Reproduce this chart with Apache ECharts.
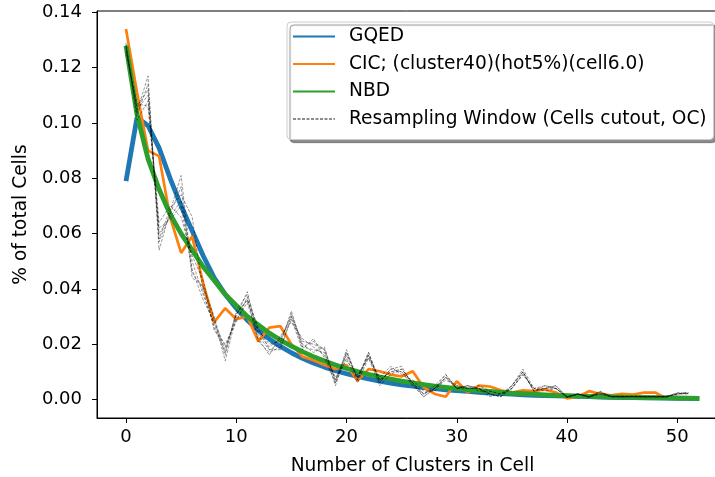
<!DOCTYPE html>
<html>
<head>
<meta charset="utf-8">
<script src="https://cdn.jsdelivr.net/npm/echarts@6/dist/echarts.min.js"></script>
<style>html,body{margin:0;padding:0;background:#fff}#c{width:715px;height:477px}</style>
</head>
<body>
<div id="c"></div>
<script>
// Tick labels
const xTicks = [0, 10, 20, 30, 40, 50];
const yTicks = [0, 0.02, 0.04, 0.06, 0.08, 0.10, 0.12, 0.14];

// Series names
const names = ['GQED', 'CIC; (cluster40)(hot5%)(cell6.0)', 'NBD', 'Resampling Window (Cells cutout, OC)'];

// Values indexed by number of clusters in cell (0,1,2,...)
const gqed = [0.079,0.102,0.099,0.091,0.080,0.070,0.061,0.052,0.044,0.038,0.033,0.0287,0.0250,0.0219,0.0192,0.0169,0.0149,0.0132,0.0117,0.0104,0.0093,0.0083,0.0074,0.0066,0.0059,0.0053,0.0048,0.0043,0.0039,0.0035,0.0032,0.0029,0.0026,0.0023,0.0021,0.0019,0.0017,0.0015,0.0014,0.0013,0.0012,0.0011,0.0010,0.0009,0.0008,0.0007,0.00065,0.0006,0.00055,0.0005,0.00045,0.0004,0.00036];
const cic = [0.134,0.111,0.090,0.088,0.066,0.053,0.059,0.042,0.028,0.033,0.029,0.030,0.021,0.026,0.0265,0.020,0.0155,0.0142,0.0125,0.011,0.0125,0.0068,0.011,0.0102,0.009,0.0083,0.0102,0.0044,0.002,0.001,0.0066,0.0025,0.005,0.0047,0.0033,0.0025,0.0033,0.003,0.0036,0.0025,0.0004,0.001,0.003,0.002,0.0015,0.002,0.0018,0.0025,0.0025,0.0004,0.001];
const nbd = [0.128,0.103,0.087,0.076,0.067,0.060,0.054,0.048,0.043,0.038,0.034,0.030,0.027,0.024,0.0215,0.0193,0.0173,0.0155,0.0139,0.0125,0.0112,0.0101,0.0091,0.0082,0.0074,0.0066,0.0060,0.0054,0.0048,0.0044,0.0039,0.0035,0.0032,0.0029,0.0026,0.0023,0.0021,0.0019,0.0017,0.0015,0.0014,0.0012,0.0011,0.0010,0.0009,0.0008,0.00075,0.00068,0.0006,0.00055,0.0005,0.00045,0.0004];

const resample1 = [0.128,0.104,0.117,0.054,0.068,0.081,0.046,0.040,0.029,0.014,0.030,0.039,0.023,0.018,0.020,0.032,0.019,0.018,0.017,0.005,0.017,0.007,0.017,0.006,0.011,0.010,0.005,0.001,0.004,0.009,0.004,0.005,0.004,0.001,0.002,0.005,0.011,0.004,0.005,0.004,0.001,0.002,0.001,0.003,0.001,0.001,0.001,0.001,0.001,0.001,0.002,0.0025];
const resample2 = [0.126,0.106,0.112,0.060,0.066,0.072,0.050,0.038,0.027,0.018,0.031,0.036,0.024,0.019,0.022,0.030,0.021,0.020,0.018,0.007,0.016,0.008,0.016,0.007,0.010,0.011,0.006,0.002,0.004,0.008,0.005,0.004,0.004,0.002,0.001,0.004,0.010,0.003,0.004,0.005,0.0007,0.002,0.0007,0.0025,0.001,0.001,0.0012,0.001,0.001,0.0012,0.0022,0.0022];
const resample3 = [0.129,0.101,0.108,0.064,0.070,0.066,0.052,0.043,0.025,0.020,0.028,0.037,0.021,0.017,0.019,0.029,0.018,0.022,0.015,0.006,0.015,0.006,0.015,0.008,0.012,0.009,0.007,0.003,0.003,0.008,0.004,0.005,0.003,0.003,0.002,0.004,0.009,0.004,0.003,0.004,0.001,0.002,0.001,0.002,0.001,0.0008,0.001,0.0008,0.001,0.001,0.002,0.002];
const resample4 = [0.127,0.103,0.114,0.057,0.067,0.077,0.044,0.041,0.030,0.016,0.032,0.038,0.025,0.020,0.021,0.031,0.020,0.017,0.019,0.006,0.018,0.007,0.016,0.006,0.011,0.012,0.005,0.002,0.005,0.009,0.004,0.004,0.004,0.002,0.001,0.005,0.010,0.003,0.005,0.004,0.0008,0.0022,0.001,0.0025,0.0012,0.001,0.001,0.001,0.0008,0.001,0.0025,0.0022];
const resample5 = [0.125,0.107,0.106,0.062,0.065,0.070,0.047,0.036,0.028,0.019,0.029,0.035,0.022,0.016,0.023,0.028,0.022,0.019,0.016,0.008,0.014,0.009,0.015,0.005,0.009,0.011,0.006,0.002,0.004,0.007,0.005,0.004,0.005,0.003,0.002,0.004,0.009,0.004,0.004,0.005,0.001,0.0018,0.0008,0.002,0.001,0.0012,0.001,0.0012,0.001,0.0008,0.002,0.0025];
const resample6 = [0.128,0.105,0.110,0.058,0.069,0.074,0.066,0.039,0.026,0.017,0.031,0.036,0.026,0.018,0.018,0.030,0.019,0.021,0.018,0.007,0.017,0.008,0.017,0.007,0.010,0.010,0.006,0.001,0.004,0.008,0.004,0.005,0.004,0.002,0.001,0.005,0.010,0.003,0.004,0.004,0.0006,0.002,0.001,0.0028,0.001,0.001,0.001,0.001,0.0012,0.001,0.002,0.0022];
const resamples = [resample1, resample2, resample3, resample4, resample5, resample6];

const pairs = arr => arr.map((v, i) => [i, v]);
const FONT = 'DejaVu Sans';
const NOSYM = { color: 'rgba(0,0,0,0)', borderWidth: 0 };

const series = [
  { name: names[0], type: 'line', data: pairs(gqed), symbol: 'none', lineStyle: { color: '#1f77b4', width: 4.8 }, itemStyle: NOSYM, z: 2 },
  { name: names[1], type: 'line', data: pairs(cic), symbol: 'none', lineStyle: { color: '#ff7f0e', width: 2.7 }, itemStyle: NOSYM, z: 3 },
  { name: names[2], type: 'line', data: pairs(nbd), symbol: 'none', lineStyle: { color: '#2ca02c', width: 4.8 }, itemStyle: NOSYM, z: 4 }
];
resamples.forEach(r => series.push({
  name: names[3], type: 'line', data: pairs(r), symbol: 'none',
  lineStyle: { color: 'rgba(0,0,0,0.45)', width: 0.9, type: [3, 1.5] },
  itemStyle: NOSYM, z: 5
}));

const chart = echarts.init(document.getElementById('c'), null, { renderer: 'canvas' });
chart.setOption({
  animation: false,
  backgroundColor: '#fff',
  textStyle: { fontFamily: FONT },
  grid: { left: 97, top: 11, width: 631, height: 407, outerBoundsMode: 'none', containLabel: false, show: true, borderColor: '#000', borderWidth: 1, backgroundColor: 'transparent' },
  xAxis: {
    type: 'value', min: -2.63, max: 54.6,
    splitLine: { show: false },
    axisLine: { onZero: false, lineStyle: { color: '#000', width: 1 } },
    axisTick: { customValues: xTicks, length: 5, lineStyle: { color: '#000' } },
    axisLabel: { customValues: xTicks, margin: 10, color: '#000', fontSize: 18, fontFamily: FONT },
    name: 'Number of Clusters in Cell', nameLocation: 'middle', nameGap: 39,
    nameTextStyle: { color: '#000', fontSize: 18.6, fontFamily: FONT }
  },
  yAxis: {
    type: 'value', min: -0.0067, max: 0.1405,
    splitLine: { show: false },
    axisLine: { onZero: false, lineStyle: { color: '#000', width: 1 } },
    axisTick: { customValues: yTicks, length: 5, lineStyle: { color: '#000' } },
    axisLabel: { customValues: yTicks, margin: 15, color: '#000', fontSize: 18, fontFamily: FONT, formatter: v => v.toFixed(2) },
    name: '% of total Cells', nameLocation: 'middle', nameGap: 63, nameRotate: 90,
    nameTextStyle: { color: '#000', fontSize: 18.6, fontFamily: FONT }
  },
  legend: {
    orient: 'vertical', left: 287, top: 22,
    data: names,
    itemWidth: 42, itemHeight: 14, itemGap: 8.5,
    padding: [5, 7, 11, 5],
    itemStyle: { borderWidth: 0 },
    backgroundColor: '#fff', borderColor: '#ccc', borderWidth: 1, borderRadius: 4,
    shadowColor: 'rgba(0,0,0,0.45)', shadowBlur: 1, shadowOffsetX: 3, shadowOffsetY: 3,
    textStyle: { color: '#000', fontSize: 18.6, fontFamily: FONT, padding: [0, 0, 0, 9] }
  },
  series: series
});
</script>
</body>
</html>
